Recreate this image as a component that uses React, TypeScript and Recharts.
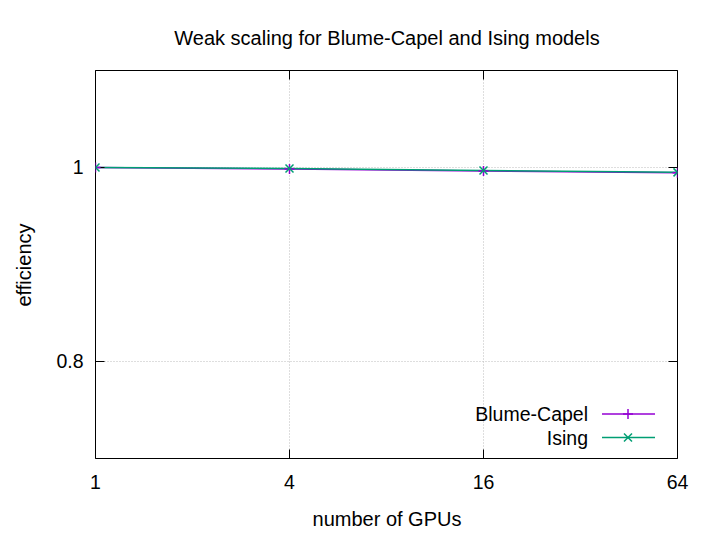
import { LineChart, Line, XAxis, YAxis, CartesianGrid } from "recharts";

const gpus = [1, 4, 16, 64];
const blumeCapel = [1.0, 0.9985, 0.9965, 0.9945];
const ising = [1.0, 0.999, 0.997, 0.995];
const xTicks = [1, 4, 16, 64];
const yTicks = [0.8, 1];

const BC_COLOR = "#9400d3";
const ISING_COLOR = "#009e73";
const FONT = "'Liberation Sans', Arial, sans-serif";

const data = gpus.map((g, i) => ({ gpus: g, bc: blumeCapel[i], ising: ising[i] }));

const series = [
  { key: "bc", name: "Blume-Capel", color: BC_COLOR },
  { key: "ising", name: "Ising", color: ISING_COLOR },
];

function PlusDot(props: any) {
  const { cx, cy, stroke } = props;
  if (cx == null || cy == null) return null;
  return (
    <path
      d={`M${cx - 5},${cy}H${cx + 5}M${cx},${cy - 5}V${cy + 5}`}
      stroke={stroke}
      strokeWidth={1.5}
      fill="none"
    />
  );
}

function CrossDot(props: any) {
  const { cx, cy, stroke } = props;
  if (cx == null || cy == null) return null;
  return (
    <path
      d={`M${cx - 4},${cy - 4}L${cx + 4},${cy + 4}M${cx - 4},${cy + 4}L${cx + 4},${cy - 4}`}
      stroke={stroke}
      strokeWidth={1.5}
      fill="none"
    />
  );
}

// gnuplot-style key in the lower right of the plot
function Key() {
  return (
    <g>
      {series.map((s, i) => {
        const base = 421 + i * 23.5;
        const ly = base - 7;
        return (
          <g key={s.key}>
            <text x={588} y={base} textAnchor="end" fontFamily={FONT} fontSize={19.5} fill="#000">
              {s.name}
            </text>
            <line x1={602} y1={ly} x2={655} y2={ly} stroke={s.color} strokeWidth={1.5} />
            {s.key === "bc" ? (
              <PlusDot cx={628} cy={ly} stroke={s.color} />
            ) : (
              <CrossDot cx={628} cy={ly} stroke={s.color} />
            )}
          </g>
        );
      })}
    </g>
  );
}

const axisLine = { stroke: "#000", strokeWidth: 1 };

export default function App() {
  return (
    <div
      style={{
        position: "absolute",
        left: 0,
        top: 0,
        width: 711,
        height: 534,
        background: "#fff",
        fontFamily: FONT,
      }}
    >
      <LineChart
        width={711}
        height={534}
        data={data}
        margin={{ top: 69.5, right: 32.5, left: 0, bottom: 35.5 }}
      >
        <CartesianGrid stroke="#bdbdbd" strokeDasharray="1 2" strokeWidth={1} />
        <XAxis
          dataKey="gpus"
          type="number"
          scale="log"
          domain={[1, 64]}
          ticks={xTicks}
          allowDataOverflow
          height={40}
          tickSize={-9}
          tickMargin={26}
          axisLine={axisLine}
          tickLine={axisLine}
          tick={{ fill: "#000", fontSize: 19.5, fontFamily: FONT }}
          interval={0}
        />
        <XAxis
          xAxisId="top"
          dataKey="gpus"
          type="number"
          scale="log"
          domain={[1, 64]}
          ticks={xTicks}
          allowDataOverflow
          orientation="top"
          height={1}
          tickSize={-9}
          tickFormatter={() => ""}
          axisLine={axisLine}
          tickLine={axisLine}
          interval={0}
        />
        <YAxis
          type="number"
          domain={[0.7, 1.1]}
          ticks={yTicks}
          allowDataOverflow
          width={95.5}
          tickSize={-9}
          tickMargin={21}
          axisLine={axisLine}
          tickLine={axisLine}
          tick={{ fill: "#000", fontSize: 19.5, fontFamily: FONT }}
          interval={0}
        />
        <YAxis
          yAxisId="right"
          type="number"
          domain={[0.7, 1.1]}
          ticks={yTicks}
          allowDataOverflow
          orientation="right"
          width={1}
          tickSize={-9}
          tickFormatter={() => ""}
          axisLine={axisLine}
          tickLine={axisLine}
          interval={0}
        />
        <Line
          name="Blume-Capel"
          dataKey="bc"
          stroke={BC_COLOR}
          strokeWidth={1.5}
          dot={<PlusDot />}
          activeDot={false}
          isAnimationActive={false}
        />
        <Line
          name="Ising"
          dataKey="ising"
          stroke={ISING_COLOR}
          strokeWidth={1.5}
          dot={<CrossDot />}
          activeDot={false}
          isAnimationActive={false}
        />
      </LineChart>
      <svg
        width={711}
        height={534}
        style={{ position: "absolute", left: 0, top: 0, pointerEvents: "none" }}
      >
        <text x={387} y={45} textAnchor="middle" fontFamily={FONT} fontSize={20} fill="#000">
          Weak scaling for Blume-Capel and Ising models
        </text>
        <text x={387} y={526} textAnchor="middle" fontFamily={FONT} fontSize={20} fill="#000">
          number of GPUs
        </text>
        <text
          x={31}
          y={265}
          textAnchor="middle"
          fontFamily={FONT}
          fontSize={20}
          fill="#000"
          transform="rotate(-90 31 265)"
        >
          efficiency
        </text>
        <Key />
      </svg>
    </div>
  );
}
